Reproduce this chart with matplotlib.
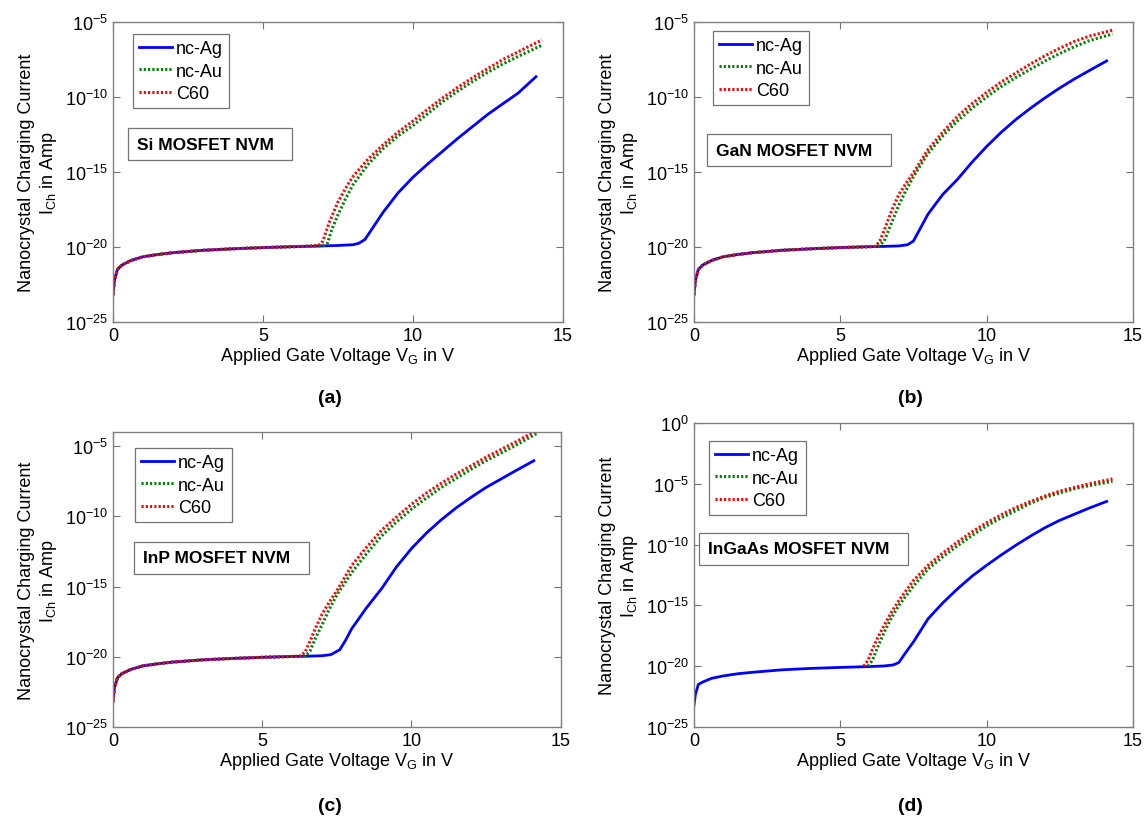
import numpy as np
import matplotlib
matplotlib.use("Agg")
from matplotlib import pyplot as plt

plt.rcParams['font.family'] = ['Liberation Sans', 'DejaVu Sans']
plt.rcParams['mathtext.default'] = 'regular'

# readings from the picture: gate voltage (V) and log10 of charging current (A)
# common low-voltage plateau shared by all curves
plat_x_a = [0, 0.05, 0.15, 0.3, 0.6, 1, 1.5, 2, 3, 4, 5, 6]
plat_y_a = [-23.2, -22.2, -21.5, -21.2, -20.9, -20.65, -20.5, -20.38, -20.22, -20.12, -20.04, -19.98]

# (a) Si
si_ag_x = [7, 7.5, 8, 8.2, 8.4, 8.7, 9, 9.5, 10, 10.5, 11, 11.5, 12, 12.5, 13, 13.5, 14.1]
si_ag_y = [-19.93, -19.9, -19.85, -19.75, -19.5, -18.6, -17.7, -16.4, -15.35, -14.45, -13.6, -12.75, -11.95, -11.15, -10.45, -9.75, -8.65]
si_au_x = [6.5, 7.0, 7.15, 7.3, 7.5, 7.75, 8, 8.5, 9, 9.5, 10, 10.5, 11, 11.5, 12, 12.5, 13, 13.5, 14.3]
si_au_y = [-19.95, -19.92, -19.75, -18.8, -17.85, -16.8, -15.85, -14.5, -13.45, -12.6, -11.9, -11.1, -10.3, -9.6, -8.95, -8.35, -7.8, -7.3, -6.55]
si_c60_x = [6.5, 6.85, 7.0, 7.2, 7.5, 7.75, 8, 8.5, 9, 9.5, 10, 10.5, 11, 11.5, 12, 12.5, 13, 13.5, 14.3]
si_c60_y = [-19.95, -19.9, -19.6, -18.4, -17.0, -16.1, -15.3, -14.15, -13.2, -12.35, -11.6, -10.8, -10.05, -9.35, -8.7, -8.1, -7.5, -7.0, -6.2]

# (b) GaN
gan_ag_x = [6, 6.5, 7.0, 7.3, 7.5, 7.75, 8, 8.5, 9, 9.5, 10, 10.5, 11, 11.5, 12, 12.5, 13, 13.5, 14.1]
gan_ag_y = [-19.98, -19.96, -19.93, -19.85, -19.6, -18.7, -17.8, -16.5, -15.5, -14.35, -13.3, -12.35, -11.5, -10.75, -10.05, -9.4, -8.8, -8.25, -7.6]
gan_au_x = [6, 6.3, 6.5, 6.75, 7, 7.25, 7.5, 8, 8.5, 9, 9.5, 10, 10.5, 11, 11.5, 12, 12.5, 13, 13.5, 14.3]
gan_au_y = [-19.98, -19.96, -19.6, -18.4, -17.2, -16.2, -15.3, -13.75, -12.6, -11.6, -10.75, -10.0, -9.3, -8.7, -8.15, -7.6, -7.1, -6.65, -6.25, -5.8]
gan_c60_x = [6, 6.2, 6.35, 6.5, 6.75, 7, 7.25, 7.5, 8, 8.5, 9, 9.5, 10, 10.5, 11, 11.5, 12, 12.5, 13, 13.5, 14.3]
gan_c60_y = [-19.98, -19.96, -19.6, -18.9, -17.6, -16.5, -15.75, -15.05, -13.5, -12.35, -11.3, -10.45, -9.7, -9.0, -8.4, -7.8, -7.25, -6.75, -6.3, -5.95, -5.55]

# (c) InP
inp_ag_x = [6, 6.5, 7.0, 7.3, 7.6, 7.8, 8, 8.5, 9, 9.5, 10, 10.5, 11, 11.5, 12, 12.5, 13, 13.5, 14.1]
inp_ag_y = [-19.98, -19.96, -19.93, -19.85, -19.5, -18.8, -18.0, -16.5, -15.15, -13.6, -12.3, -11.2, -10.25, -9.4, -8.65, -7.95, -7.35, -6.75, -6.05]
inp_au_x = [6, 6.45, 6.6, 6.8, 7, 7.25, 7.5, 8, 8.5, 9, 9.5, 10, 10.5, 11, 11.5, 12, 12.5, 13, 13.5, 14.2]
inp_au_y = [-19.98, -19.95, -19.6, -18.6, -17.75, -16.6, -15.6, -14.0, -12.65, -11.4, -10.4, -9.5, -8.7, -7.95, -7.3, -6.65, -6.05, -5.5, -4.95, -4.1]
inp_c60_x = [6, 6.3, 6.45, 6.6, 6.8, 7, 7.25, 7.5, 8, 8.5, 9, 9.5, 10, 10.5, 11, 11.5, 12, 12.5, 13, 13.5, 14.1]
inp_c60_y = [-19.98, -19.95, -19.6, -18.9, -17.9, -17.0, -16.1, -15.3, -13.5, -12.2, -11.0, -10.05, -9.15, -8.35, -7.65, -7.0, -6.4, -5.8, -5.25, -4.7, -4.0]

# (d) InGaAs
plat_x_d = [0, 0.05, 0.15, 0.3, 0.6, 1, 1.5, 2, 3, 4, 5, 6]
plat_y_d = [-23.2, -22.3, -21.5, -21.3, -21.0, -20.8, -20.62, -20.5, -20.3, -20.18, -20.1, -20.03]
ingaas_ag_x = [6.5, 6.8, 7.0, 7.2, 7.5, 8, 8.5, 9, 9.5, 10, 10.5, 11, 11.5, 12, 12.5, 13, 13.5, 14.1]
ingaas_ag_y = [-19.98, -19.9, -19.7, -19.0, -18.0, -16.1, -14.8, -13.65, -12.6, -11.7, -10.85, -10.05, -9.3, -8.6, -8.0, -7.5, -7.0, -6.45]
ingaas_au_x = [5.95, 6.1, 6.3, 6.5, 6.75, 7, 7.5, 8, 8.5, 9, 9.5, 10, 10.5, 11, 11.5, 12, 12.5, 13, 13.5, 14.3]
ingaas_au_y = [-20.0, -19.5, -18.3, -17.2, -16.0, -15.0, -13.4, -12.0, -11.0, -10.1, -9.25, -8.45, -7.8, -7.2, -6.6, -6.1, -5.75, -5.4, -5.15, -4.8]
ingaas_c60_x = [5.8, 5.95, 6.1, 6.3, 6.5, 6.75, 7, 7.5, 8, 8.5, 9, 9.5, 10, 10.5, 11, 11.5, 12, 12.5, 13, 13.5, 14.3]
ingaas_c60_y = [-20.0, -19.5, -18.6, -17.55, -16.65, -15.55, -14.6, -12.95, -11.7, -10.7, -9.8, -8.95, -8.2, -7.55, -6.95, -6.45, -6.0, -5.6, -5.3, -5.0, -4.6]

labels = ['nc-Ag', 'nc-Au', 'C60']
titles = ['Si MOSFET NVM', 'GaN MOSFET NVM', 'InP MOSFET NVM', 'InGaAs MOSFET NVM']
panel_tags = ['(a)', '(b)', '(c)', '(d)']
ylims = [(-25, -5), (-25, -5), (-25, -4), (-25, 0)]


def join(px, py, x, y):
    # plateau points below the first rising point, then the rising branch
    xs = [a for a in px if a < x[0]] + list(x)
    ys = [b for a, b in zip(px, py) if a < x[0]] + list(y)
    return np.array(xs), 10.0 ** np.array(ys)


panels = [
    (join(plat_x_a, plat_y_a, si_ag_x, si_ag_y), join(plat_x_a, plat_y_a, si_au_x, si_au_y),
     join(plat_x_a, plat_y_a, si_c60_x, si_c60_y)),
    (join(plat_x_a, plat_y_a, gan_ag_x, gan_ag_y), join(plat_x_a, plat_y_a, gan_au_x, gan_au_y),
     join(plat_x_a, plat_y_a, gan_c60_x, gan_c60_y)),
    (join(plat_x_a, plat_y_a, inp_ag_x, inp_ag_y), join(plat_x_a, plat_y_a, inp_au_x, inp_au_y),
     join(plat_x_a, plat_y_a, inp_c60_x, inp_c60_y)),
    (join(plat_x_d, plat_y_d, ingaas_ag_x, ingaas_ag_y),
     (np.array(ingaas_au_x), 10.0 ** np.array(ingaas_au_y)),
     (np.array(ingaas_c60_x), 10.0 ** np.array(ingaas_c60_y))),
]

# axes rectangles in figure fractions
rects = [
    [0.0984, 0.6061, 0.392, 0.3659],
    [0.6045, 0.6061, 0.3824, 0.3659],
    [0.0984, 0.1122, 0.390, 0.3598],
    [0.6045, 0.1122, 0.3824, 0.3707],
]
leg_pos = [(0.044, 0.96), (0.043, 0.97), (0.049, 0.946), (0.034, 0.941)]
text_pos = [(0.053, 0.593), (0.05, 0.573), (0.067, 0.573), (0.032, 0.586)]
tag_pos = [(0.2875, 0.5146), (0.793, 0.5146), (0.2875, 0.0159), (0.793, 0.0159)]

fig = plt.figure(figsize=(11.48, 8.2), dpi=100)
fig.set_facecolor('white')

dots = (0, (0.7, 0.7))
styles = [dict(color='#0000ff', ls='-', lw=2.0),
          dict(color='#008000', ls=dots, lw=2.2),
          dict(color='#ff0000', ls=dots, lw=2.2)]

for i in range(4):
    ax = fig.add_axes(rects[i])
    (agx, agy), (aux, auy), (cx, cy) = panels[i]
    ax.plot(agx, agy, label=labels[0], **styles[0])
    ax.plot(aux, auy, label=labels[1], **styles[1])
    ax.plot(cx, cy, label=labels[2], **styles[2])
    ax.set_yscale('log')
    ax.set_xlim(0, 15)
    lo, hi = ylims[i]
    ax.set_ylim(10.0 ** lo, 10.0 ** hi)
    ax.set_yticks([10.0 ** e for e in range(-25, hi + 1, 5)])
    ax.yaxis.set_minor_locator(matplotlib.ticker.NullLocator())
    ax.set_xticks([0, 5, 10, 15])
    ax.tick_params(direction='in', top=True, right=True, labelsize=13, length=5,
                   color='0.45', labelcolor='black')
    for s in ax.spines.values():
        s.set_color('0.5')
        s.set_linewidth(1.0)
    ax.set_xlabel('Applied Gate Voltage V$_G$ in V', fontsize=13, labelpad=1)
    ax.set_ylabel('Nanocrystal Charging Current\nI$_{Ch}$ in Amp', fontsize=13, labelpad=4)
    leg = ax.legend(loc='upper left', bbox_to_anchor=leg_pos[i], borderaxespad=0,
                    fontsize=13, fancybox=False, edgecolor='0.45', framealpha=1,
                    handlelength=1.8, handletextpad=0.25, labelspacing=0.3, borderpad=0.35)
    leg.get_frame().set_linewidth(0.9)
    ax.text(text_pos[i][0], text_pos[i][1], titles[i] + '  ', transform=ax.transAxes,
            fontsize=12.5, fontweight='bold', va='center', ha='left',
            bbox=dict(boxstyle='square,pad=0.5', fc='white', ec='0.45', lw=0.9))
    fig.text(tag_pos[i][0], tag_pos[i][1], panel_tags[i], fontsize=14, fontweight='bold',
             ha='center', va='center')

fig.savefig('out.png', dpi=100)
